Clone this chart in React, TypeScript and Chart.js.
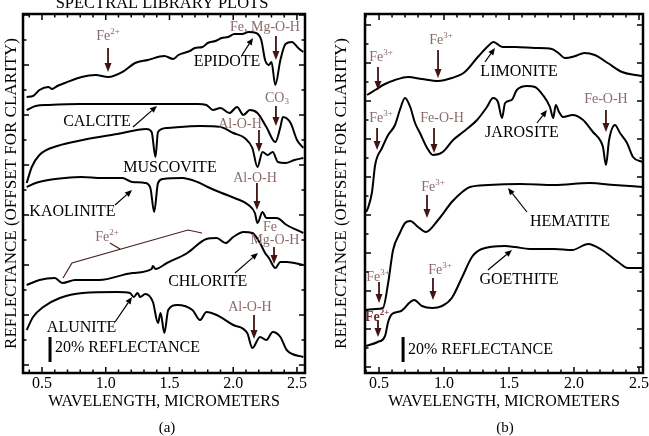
import React, { useEffect, useRef } from "react";
import { Chart, registerables } from "chart.js";
Chart.register(...registerables);

const FONT = "'Liberation Serif', 'DejaVu Serif', 'Times New Roman', serif";
Chart.defaults.font.family = FONT;

type P = [number, number];

// ---------- tick labels ----------
const X_TICKS = [0.5, 1.0, 1.5, 2.0, 2.5];
const X_MINOR = [0.4, 0.6, 0.7, 0.8, 0.9, 1.1, 1.2, 1.3, 1.4, 1.6, 1.7, 1.8, 1.9, 2.1, 2.2, 2.3, 2.4];

// ---------- panel (a) spectra: [wavelength µm, offset reflectance] ----------
const EPIDOTE: P[] = [[0.38,268],[0.43,269],[0.48,275],[0.55,278],[0.58,276],[0.62,279],[0.68,282],[0.81,288],[0.92,290],[1.02,288],[1.13,293],[1.23,302],[1.33,305],[1.46,309],[1.53,306],[1.57,310],[1.66,314],[1.70,317],[1.76,318],[1.80,322],[1.86,324],[1.91,327],[1.96,328],[2.01,331],[2.07,331],[2.12,333],[2.18,332],[2.22,325],[2.25,305],[2.28,300],[2.30,303],[2.33,280],[2.37,305],[2.41,321],[2.46,323],[2.51,317],[2.55,313]];
const CALCITE: P[] = [[0.38,255],[0.45,259],[0.55,260],[0.80,261],[1.11,261],[1.43,261],[1.72,261],[1.79,260],[1.84,255],[1.90,257],[1.97,252],[2.03,258],[2.08,250],[2.13,255],[2.19,252],[2.26,238],[2.33,223],[2.37,238],[2.39,248],[2.45,242],[2.50,225],[2.55,217]];
const MUSCOVITE: P[] = [[0.38,182],[0.42,198],[0.48,210],[0.62,219],[0.82,225],[1.09,231],[1.32,236],[1.36,233],[1.39,208],[1.41,233],[1.48,237],[1.74,239],[1.90,238],[2.00,232],[2.09,227],[2.15,217],[2.19,198],[2.23,213],[2.27,210],[2.31,213],[2.35,203],[2.41,202],[2.48,205],[2.55,207]];
const KAOLINITE: P[] = [[0.38,178],[0.45,182],[0.55,185],[0.68,187],[0.81,188],[0.97,187],[1.13,187],[1.21,183],[1.31,182],[1.35,177],[1.38,153],[1.41,182],[1.45,186],[1.60,187],[1.72,183],[1.80,178],[1.91,172],[2.01,167],[2.12,160],[2.17,152],[2.19,142],[2.23,153],[2.26,147],[2.34,147],[2.42,140],[2.55,132]];
const CHLORITE: P[] = [[0.38,80],[0.48,85],[0.60,87],[0.66,82],[0.76,85],[0.95,85],[1.21,92],[1.36,96],[1.37,99],[1.39,96],[1.48,102],[1.64,112],[1.79,126],[1.87,127],[1.94,122],[2.00,128],[2.08,133],[2.15,132],[2.21,122],[2.25,112],[2.28,107],[2.33,97],[2.37,103],[2.42,103],[2.55,100]];
const ALUNITE: P[] = [[0.38,35],[0.43,48],[0.51,58],[0.64,67],[0.82,72],[1.09,73],[1.19,72],[1.22,68],[1.25,72],[1.27,68],[1.31,71],[1.37,63],[1.41,42],[1.43,52],[1.46,32],[1.49,55],[1.56,60],[1.68,55],[1.74,45],[1.79,53],[1.87,50],[2.00,40],[2.11,32],[2.15,17],[2.21,28],[2.26,25],[2.31,33],[2.37,28],[2.42,15],[2.55,8]];

// ---------- panel (b) spectra ----------
const LIMONITE: P[] = [[0.408,272],[0.47,277],[0.546,283],[0.623,287],[0.723,290],[0.83,288],[0.954,286],[1.06,289],[1.16,295],[1.26,310],[1.34,321],[1.38,325],[1.45,320],[1.55,320],[1.70,319],[1.83,318],[1.88,314],[1.93,309],[2.01,311],[2.08,314],[2.16,312],[2.26,304],[2.37,295],[2.47,292],[2.53,291]];
const JAROSITE: P[] = [[0.40,155],[0.415,159],[0.446,175],[0.47,202],[0.523,219],[0.57,232],[0.623,242],[0.66,257],[0.70,269],[0.74,260],[0.777,244],[0.815,234],[0.87,219],[0.915,212],[0.99,215],[1.07,227],[1.146,235],[1.254,247],[1.33,260],[1.377,269],[1.415,265],[1.446,249],[1.47,264],[1.52,267],[1.56,277],[1.64,281],[1.70,280],[1.76,272],[1.815,260],[1.84,249],[1.86,262],[1.885,255],[1.915,250],[1.99,252],[2.07,247],[2.146,235],[2.20,227],[2.223,220],[2.246,202],[2.27,227],[2.315,242],[2.354,234],[2.408,224],[2.454,210],[2.53,205]];
const HEMATITE: P[] = [[0.40,57],[0.47,58],[0.53,59],[0.57,84],[0.608,117],[0.66,134],[0.70,144],[0.74,146],[0.80,140],[0.86,135],[0.954,147],[1.06,165],[1.14,175],[1.20,180],[1.34,182],[1.585,183],[1.85,182],[2.12,184],[2.31,182],[2.53,180]];
const GOETHITE: P[] = [[0.40,21],[0.49,25],[0.546,31],[0.57,45],[0.60,53],[0.67,56],[0.74,65],[0.77,67],[0.83,61],[0.91,59],[0.985,61],[1.06,69],[1.14,90],[1.215,110],[1.29,118],[1.47,121],[1.546,120],[1.66,118],[1.85,118],[1.985,117],[2.11,123],[2.215,117],[2.34,105],[2.415,99],[2.53,99]];

// ---------- annotations (data coordinates) ----------
type Label = { x: number; y: number; text: string; sup?: string; sub?: string; kind: "min" | "feat" | "featBold"; align?: "left" | "center" };
type Seg = [number, number, number, number];

const A_LABELS: Label[] = [
  { x: 1.018, y: 329, text: "Fe", sup: "2+", kind: "feat" },
  { x: 2.249, y: 338, text: "Fe, Mg-O-H", kind: "feat" },
  { x: 1.951, y: 303, text: "EPIDOTE", kind: "min" },
  { x: 2.343, y: 267, text: "CO", sub: "3", kind: "feat" },
  { x: 0.931, y: 243, text: "CALCITE", kind: "min" },
  { x: 2.053, y: 241, text: "Al-O-H", kind: "feat" },
  { x: 1.504, y: 197, text: "MUSCOVITE", kind: "min" },
  { x: 2.171, y: 187, text: "Al-O-H", kind: "feat" },
  { x: 0.739, y: 153, text: "KAOLINITE", kind: "min" },
  { x: 2.288, y: 138, text: "Fe", kind: "feat" },
  { x: 2.327, y: 125, text: "Mg-O-H", kind: "feat" },
  { x: 1.01, y: 128, text: "Fe", sup: "2+", kind: "feat" },
  { x: 1.8, y: 83, text: "CHLORITE", kind: "min" },
  { x: 2.131, y: 58, text: "Al-O-H", kind: "feat" },
  { x: 0.81, y: 37, text: "ALUNITE", kind: "min" },
  { x: 0.602, y: 17, text: "20% REFLECTANCE", kind: "min", align: "left" },
];
const A_RED_ARROWS: Seg[] = [
  [1.018, 317, 1.018, 293], [2.335, 329, 2.335, 305], [2.335, 259, 2.335, 239],
  [2.202, 235, 2.202, 213], [2.186, 182, 2.186, 155], [2.32, 118, 2.32, 101], [2.163, 50, 2.163, 26],
];
const A_BLACK_ARROWS: Seg[] = [
  [2.069, 310, 2.155, 327], [1.214, 238, 1.402, 259], [1.073, 160, 1.206, 175],
  [2.014, 92, 2.194, 112], [1.073, 43, 1.206, 68],
];
const A_LINES: P[][] = [
  [[0.665, 87], [0.735, 102], [1.645, 135], [1.755, 132]],
  [[1.033, 122], [1.112, 116]],
];
const A_BARS: Seg[] = [[0.563, 28, 0.563, 3]];

const B_LABELS: Label[] = [
  { x: 0.515, y: 310, text: "Fe", sup: "3+", kind: "feat" },
  { x: 0.977, y: 327, text: "Fe", sup: "3+", kind: "feat" },
  { x: 1.577, y: 295, text: "LIMONITE", kind: "min" },
  { x: 0.515, y: 249, text: "Fe", sup: "3+", kind: "feat" },
  { x: 0.985, y: 249, text: "Fe-O-H", kind: "feat" },
  { x: 1.6, y: 234, text: "JAROSITE", kind: "min" },
  { x: 2.246, y: 268, text: "Fe-O-H", kind: "feat" },
  { x: 0.915, y: 180, text: "Fe", sup: "3+", kind: "feat" },
  { x: 1.969, y: 145, text: "HEMATITE", kind: "min" },
  { x: 1.577, y: 87, text: "GOETHITE", kind: "min" },
  { x: 0.969, y: 97, text: "Fe", sup: "3+", kind: "feat" },
  { x: 0.492, y: 90, text: "Fe", sup: "3+", kind: "feat" },
  { x: 0.485, y: 50, text: "Fe", sup: "2+", kind: "featBold" },
  { x: 0.723, y: 17, text: "20% REFLECTANCE", kind: "min", align: "left" },
];
const B_RED_ARROWS: Seg[] = [
  [0.492, 300, 0.492, 277], [0.954, 317, 0.954, 289], [0.485, 239, 0.485, 217],
  [0.923, 239, 0.923, 214], [2.246, 257, 2.246, 235], [0.869, 172, 0.869, 149],
  [0.915, 89, 0.915, 67], [0.5, 85, 0.5, 64], [0.492, 47, 0.492, 30],
];
const B_BLACK_ARROWS: Seg[] = [
  [1.315, 305, 1.392, 319], [1.715, 244, 1.792, 257], [1.638, 155, 1.492, 179], [1.338, 97, 1.523, 117],
];
const B_BARS: Seg[] = [[0.685, 30, 0.685, 5]];

const FEAT_COLOR = "#8b6a6a";
const RED_ARROW = "#3f1414";

type Panel = {
  series: { name: string; data: P[] }[];
  xMin: number; xMax: number; yMin: number; yMax: number;
  yStep: number; yCount: number;
  padRight: number; yWidth: number;
  labels: Label[]; red: Seg[]; black: Seg[]; lines: P[][]; bars: Seg[];
  extra: { text: string; x: number; y: number; size: number; baseline: CanvasTextBaseline }[];
};

function drawArrow(ctx: CanvasRenderingContext2D, x1: number, y1: number, x2: number, y2: number, color: string, lw: number, hl: number, hw: number) {
  const a = Math.atan2(y2 - y1, x2 - x1);
  const bx = x2 - hl * Math.cos(a), by = y2 - hl * Math.sin(a);
  ctx.strokeStyle = color; ctx.fillStyle = color; ctx.lineWidth = lw;
  ctx.beginPath(); ctx.moveTo(x1, y1); ctx.lineTo(bx, by); ctx.stroke();
  ctx.beginPath(); ctx.moveTo(x2, y2);
  ctx.lineTo(bx + hw * Math.sin(a), by - hw * Math.cos(a));
  ctx.lineTo(bx - hw * Math.sin(a), by + hw * Math.cos(a));
  ctx.closePath(); ctx.fill();
}

function drawLabel(ctx: CanvasRenderingContext2D, px: number, py: number, L: Label) {
  const size = L.kind === "min" ? 16 : 14;
  const weight = L.kind === "featBold" ? "bold " : "";
  const color = L.kind === "min" ? "#000" : L.kind === "featBold" ? "#6e3030" : FEAT_COLOR;
  const main = `${weight}${size}px ${FONT}`;
  const ss = Math.round(size * 0.62);
  const small = `${weight}${ss}px ${FONT}`;
  ctx.font = main;
  const w1 = ctx.measureText(L.text).width;
  const extra = L.sup ?? L.sub;
  let w2 = 0;
  if (extra) { ctx.font = small; w2 = ctx.measureText(extra).width; }
  const x0 = L.align === "left" ? px : px - (w1 + w2) / 2;
  ctx.fillStyle = color; ctx.textAlign = "left"; ctx.textBaseline = "middle";
  ctx.font = main; ctx.fillText(L.text, x0, py);
  if (extra) {
    ctx.font = small;
    ctx.fillText(extra, x0 + w1, py + (L.sup ? -size * 0.3 : size * 0.28));
  }
}

function makePlugin(p: Panel) {
  return {
    id: "decor",
    afterDatasetsDraw(chart: any) {
      const ctx: CanvasRenderingContext2D = chart.ctx;
      const xs = chart.scales.x, ys = chart.scales.y;
      const X = (v: number) => xs.getPixelForValue(v);
      const Y = (v: number) => ys.getPixelForValue(v);
      ctx.save();
      ctx.lineCap = "butt";
      for (const line of p.lines) {
        ctx.strokeStyle = "#4a1f1f"; ctx.lineWidth = 1.2;
        ctx.beginPath();
        line.forEach(([x, y], i) => (i ? ctx.lineTo(X(x), Y(y)) : ctx.moveTo(X(x), Y(y))));
        ctx.stroke();
      }
      for (const [x1, y1, x2, y2] of p.bars) {
        ctx.strokeStyle = "#000"; ctx.lineWidth = 3;
        ctx.beginPath(); ctx.moveTo(X(x1), Y(y1)); ctx.lineTo(X(x2), Y(y2)); ctx.stroke();
      }
      for (const [x1, y1, x2, y2] of p.red) drawArrow(ctx, X(x1), Y(y1), X(x2), Y(y2), RED_ARROW, 1.8, 9, 3.5);
      for (const [x1, y1, x2, y2] of p.black) drawArrow(ctx, X(x1), Y(y1), X(x2), Y(y2), "#000", 1.2, 7, 3);
      for (const L of p.labels) drawLabel(ctx, X(L.x), Y(L.y), L);
      ctx.restore();
    },
    afterDraw(chart: any) {
      const ctx: CanvasRenderingContext2D = chart.ctx;
      const { left, right, top, bottom } = chart.chartArea;
      const xs = chart.scales.x, ys = chart.scales.y;
      ctx.save();
      ctx.strokeStyle = "#000";
      ctx.lineWidth = 1.5;
      const xt = (v: number, len: number) => {
        const px = xs.getPixelForValue(v);
        ctx.beginPath(); ctx.moveTo(px, bottom); ctx.lineTo(px, bottom - len);
        ctx.moveTo(px, top); ctx.lineTo(px, top + len); ctx.stroke();
      };
      X_TICKS.forEach((v) => xt(v, 6));
      X_MINOR.forEach((v) => xt(v, 3.5));
      for (let k = 0; k <= p.yCount; k++) {
        const py = ys.getPixelForValue(k * p.yStep);
        const len = k % 2 === 0 ? 6 : 3.5;
        ctx.beginPath(); ctx.moveTo(left, py); ctx.lineTo(left + len, py);
        ctx.moveTo(right, py); ctx.lineTo(right - len, py); ctx.stroke();
      }
      ctx.lineWidth = 2.5;
      ctx.strokeRect(left, top, right - left, bottom - top);
      ctx.fillStyle = "#000";
      ctx.textAlign = "center";
      for (const e of p.extra) {
        ctx.font = `${e.size}px ${FONT}`;
        ctx.textBaseline = e.baseline;
        ctx.fillText(e.text, e.x, e.y);
      }
      ctx.restore();
    },
  };
}

function buildConfig(p: Panel): any {
  return {
    type: "scatter",
    data: {
      datasets: p.series.map((s) => ({
        label: s.name,
        data: s.data.map(([x, y]) => ({ x, y })),
        showLine: true,
        borderColor: "#000",
        borderWidth: 2,
        pointRadius: 0,
        cubicInterpolationMode: "monotone",
        fill: false,
      })),
    },
    options: {
      animation: false,
      responsive: false,
      events: [],
      layout: { padding: { left: 0, right: p.padRight, top: 14, bottom: 0 } },
      plugins: { legend: { display: false }, tooltip: { enabled: false }, title: { display: false } },
      scales: {
        x: {
          type: "linear", position: "bottom", min: p.xMin, max: p.xMax,
          grid: { display: false, drawTicks: false }, border: { display: false },
          afterBuildTicks: (s: any) => { s.ticks = X_TICKS.map((v) => ({ value: v })); },
          afterFit: (s: any) => { s.height = 63; s.paddingLeft = 0; s.paddingRight = 0; },
          ticks: { color: "#000", font: { family: FONT, size: 16 }, padding: 1, maxRotation: 0, autoSkip: false, callback: (v: any) => Number(v).toFixed(1) },
          title: { display: true, text: "WAVELENGTH, MICROMETERS", color: "#000", font: { family: FONT, size: 16 }, padding: { top: 0, bottom: 25 } },
        },
        y: {
          type: "linear", position: "left", min: p.yMin, max: p.yMax,
          grid: { display: false, drawTicks: false }, border: { display: false },
          ticks: { display: false },
          afterFit: (s: any) => { s.width = p.yWidth; },
          title: { display: true, text: "REFLECTANCE (OFFSET FOR CLARITY)", color: "#000", font: { family: FONT, size: 17 }, padding: { top: 1, bottom: 0 } },
        },
      },
    },
    plugins: [makePlugin(p)],
  };
}

const PANEL_A: Panel = {
  series: [
    { name: "EPIDOTE", data: EPIDOTE }, { name: "CALCITE", data: CALCITE }, { name: "MUSCOVITE", data: MUSCOVITE },
    { name: "KAOLINITE", data: KAOLINITE }, { name: "CHLORITE", data: CHLORITE }, { name: "ALUNITE", data: ALUNITE },
  ],
  xMin: 0.351, xMax: 2.563, yMin: -8, yMax: 351, yStep: 25, yCount: 14,
  padRight: 25, yWidth: 23,
  labels: A_LABELS, red: A_RED_ARROWS, black: A_BLACK_ARROWS, lines: A_LINES, bars: A_BARS,
  extra: [
    { text: "SPECTRAL LIBRARY PLOTS", x: 162, y: 8, size: 16.5, baseline: "alphabetic" },
    { text: "(a)", x: 167, y: 428, size: 15, baseline: "middle" },
  ],
};

const PANEL_B: Panel = {
  series: [
    { name: "LIMONITE", data: LIMONITE }, { name: "JAROSITE", data: JAROSITE },
    { name: "HEMATITE", data: HEMATITE }, { name: "GOETHITE", data: GOETHITE },
  ],
  xMin: 0.392, xMax: 2.531, yMin: -6, yMax: 353, yStep: 19, yCount: 18,
  padRight: 6, yWidth: 35,
  labels: B_LABELS, red: B_RED_ARROWS, black: B_BLACK_ARROWS, lines: [], bars: B_BARS,
  extra: [{ text: "(b)", x: 175, y: 428, size: 15, baseline: "middle" }],
};

export default function App() {
  const refA = useRef<HTMLCanvasElement>(null);
  const refB = useRef<HTMLCanvasElement>(null);
  useEffect(() => {
    const a = new Chart(refA.current!, buildConfig(PANEL_A));
    const b = new Chart(refB.current!, buildConfig(PANEL_B));
    return () => { a.destroy(); b.destroy(); };
  }, []);
  return (
    <div style={{ position: "absolute", left: 0, top: 0, width: 649, height: 436, overflow: "hidden", background: "#fff" }}>
      <canvas ref={refA} width={330} height={436} style={{ position: "absolute", left: 0, top: 0 }} />
      <canvas ref={refB} width={319} height={436} style={{ position: "absolute", left: 330, top: 0 }} />
    </div>
  );
}
